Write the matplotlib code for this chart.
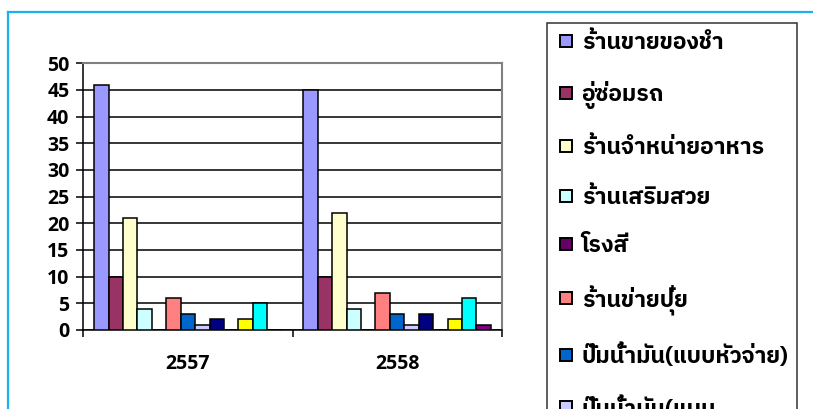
import matplotlib
matplotlib.use('Agg')
import matplotlib.pyplot as plt
import numpy as np
from matplotlib import font_manager
from matplotlib.lines import Line2D

# 1. Data
years = ['2557', '2558']
series_names = ['ร้านขายของชำ', 'อู่ซ่อมรถ', 'ร้านจำหน่ายอาหาร', 'ร้านเสริมสวย',
                'โรงสี', 'ร้านข่ายปุ๋ย', 'ปั๊มน้ำมัน(แบบหัวจ่าย)', 'ปั๊มน้ำมัน(แบบ',
                'ชุด 9', 'ชุด 10', 'ชุด 11', 'ชุด 12', 'ชุด 13']
values_2557 = [46, 10, 21, 4, 0, 6, 3, 1, 2, 0, 2, 5, 0]
values_2558 = [45, 10, 22, 4, 0, 7, 3, 1, 3, 0, 2, 6, 1]
colors = ['#9999FF', '#993366', '#FFFFCC', '#CCFFFF', '#660066', '#FF8080', '#0066CC',
          '#CCCCFF', '#000080', '#FF00FF', '#FFFF00', '#00FFFF', '#800080']
n_legend = 8  # only these fit in the picture, the rest is cut off

num_font = 'Open Sans'
legend_font = font_manager.FontProperties(family='IBM Plex Sans Thai', weight='bold', size=16.5)

# 2. Plot
fig = plt.figure(figsize=(8.13, 4.09), dpi=100)
ax = fig.add_axes([0.1025, 0.1932, 0.5146, 0.652])

data = np.array([values_2557, values_2558])
n = len(colors)
w = 1 / (n + 1.5)
for j in range(n):
    x = np.arange(len(years)) + 0.75 * w + j * w
    ax.bar(x, data[:, j], width=w, align='edge', color=colors[j],
           edgecolor='black', linewidth=1.1, zorder=3)

ax.set_xlim(0, 2)
ax.set_ylim(0, 50)
ax.set_yticks(range(0, 51, 5))
ax.yaxis.grid(True, color='black', linewidth=1.1, zorder=0)
ax.set_xticks([0, 1, 2])
ax.set_xticklabels([])
ax.set_xticks([0.5, 1.5], minor=True)
ax.set_xticklabels(years, minor=True, fontsize=14, fontweight='bold', family=num_font)
ax.tick_params(axis='x', which='minor', length=0, pad=17)
ax.tick_params(axis='x', which='major', length=5, width=1.1, direction='out')
ax.tick_params(axis='y', length=5, width=1.1, direction='out', labelsize=14, pad=5)
for lab in ax.get_yticklabels():
    lab.set_fontweight('bold')
    lab.set_family(num_font)
for s in ['left', 'bottom']:
    ax.spines[s].set_color('black')
    ax.spines[s].set_linewidth(1.1)
for s in ['top', 'right']:
    ax.spines[s].set_color('#808080')
    ax.spines[s].set_linewidth(1.5)

handles = [Line2D([], [], linestyle='none', marker='s', markersize=9,
                  markerfacecolor=colors[j], markeredgecolor='black', markeredgewidth=1.4)
           for j in range(n_legend)]
leg = fig.legend(handles, series_names[:n_legend], loc='upper left',
                 bbox_to_anchor=(0.6728, 0.9438), frameon=True, fancybox=False,
                 prop=legend_font, handlelength=0.96, handletextpad=0.18,
                 labelspacing=1.21, borderpad=0.37, borderaxespad=0)
leg.get_frame().set_edgecolor('black')
leg.get_frame().set_linewidth(1.1)

# outer blue border
fig.add_artist(Line2D([8 / 813, 8 / 813], [0, 1 - 12 / 409], color='#19B2EE', linewidth=1.6))
fig.add_artist(Line2D([8 / 813, 1], [1 - 12 / 409, 1 - 12 / 409], color='#19B2EE', linewidth=1.6))

plt.savefig('out.png', dpi=100)
